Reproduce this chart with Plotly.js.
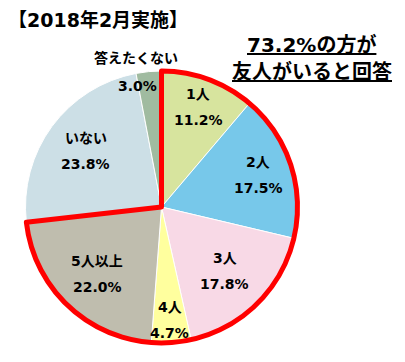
<!DOCTYPE html>
<html><head><meta charset="utf-8">
<script src="https://cdn.plot.ly/plotly-3.0.1.min.js"></script>
<style>html,body{margin:0;padding:0;background:#fff}</style>
</head><body><div id="chart" style="width:405px;height:362px"></div>
<script>
const categories = ['1人','2人','3人','4人','5人以上','いない','答えたくない'];
const values = [11.2, 17.5, 17.8, 4.7, 22.0, 23.8, 3.0];
const colors = ['#D7E49E','#77C8EA','#F8D9E6','#FFFF9E','#BFBDAE','#CCDFE6','#A0BBA0'];
const titleText = '【2018年2月実施】';
const friendCount = 5; // first five categories have friends

// label placement (fraction of the pie radius along each slice's mid angle)
const labelRadius = [0.78, 0.75, 0.66, 0.83, 0.68, 0.69];

const W = 405, H = 362;
const CX = 161.5, CY = 207, R = 136;
const FONT = '"DejaVu Sans", "Noto Sans CJK JP", sans-serif';
const hasFriends = values.slice(0, friendCount).reduce((a, b) => a + b, 0);
const noFriends = values.slice(friendCount).reduce((a, b) => a + b, 0);
const total = hasFriends + noFriends;

const domain = {x: [(CX - R) / W, (CX + R) / W], y: [1 - (CY + R) / H, 1 - (CY - R) / H]};

const pie = {
  type: 'pie', values: values, labels: categories, sort: false, direction: 'clockwise', rotation: 0,
  domain: domain, marker: {colors: colors, line: {color: '#ffffff', width: 1}},
  textinfo: 'none', hoverinfo: 'label+percent', showlegend: false
};
const outline = {
  type: 'pie', values: [hasFriends, noFriends], labels: ['a','b'], sort: false, direction: 'clockwise', rotation: 0,
  domain: domain,
  marker: {colors: ['rgba(0,0,0,0)','rgba(0,0,0,0)'], line: {color: ['#FF0000','rgba(0,0,0,0)'], width: [5, 0]}},
  textinfo: 'none', hoverinfo: 'skip', showlegend: false
};

const ann = (text, px, py, size, extra) => Object.assign({
  text: text, xref: 'paper', yref: 'paper', x: px / W, y: 1 - py / H,
  xanchor: 'center', yanchor: 'middle', showarrow: false,
  font: {family: FONT, size: size, color: '#000'}
}, extra || {});

const annotations = [
  ann('<b>' + titleText + '</b>', 98, 20, 19),
  ann('<b><u>' + hasFriends.toFixed(1) + '%の方が</u></b>', 311, 45, 20),
  ann('<b><u>友人がいると回答</u></b>', 312, 72, 20)
];
let cum = 0;
values.forEach((v, i) => {
  const mid = (cum + v / 2) / total * 2 * Math.PI;
  cum += v;
  if (i < labelRadius.length) {
    const r = R * labelRadius[i];
    const px = CX + r * Math.sin(mid), py = CY - r * Math.cos(mid);
    annotations.push(ann('<b>' + categories[i] + '</b>', px, py - 13, 14));
    annotations.push(ann('<b>' + v.toFixed(1) + '%</b>', px, py + 13, 14));
  }
});
// small slice: name above the pie, value at its outer edge
annotations.push(ann('<b>' + categories[6] + '</b>', 136, 58, 14));
annotations.push(ann('<b>' + values[6].toFixed(1) + '%</b>', 137, 86, 14));

const layout = {
  width: W, height: H, margin: {l: 0, r: 0, t: 0, b: 0},
  paper_bgcolor: '#fff', showlegend: false, annotations: annotations
};
Plotly.newPlot('chart', [pie, outline], layout, {staticPlot: true});
</script></body></html>
